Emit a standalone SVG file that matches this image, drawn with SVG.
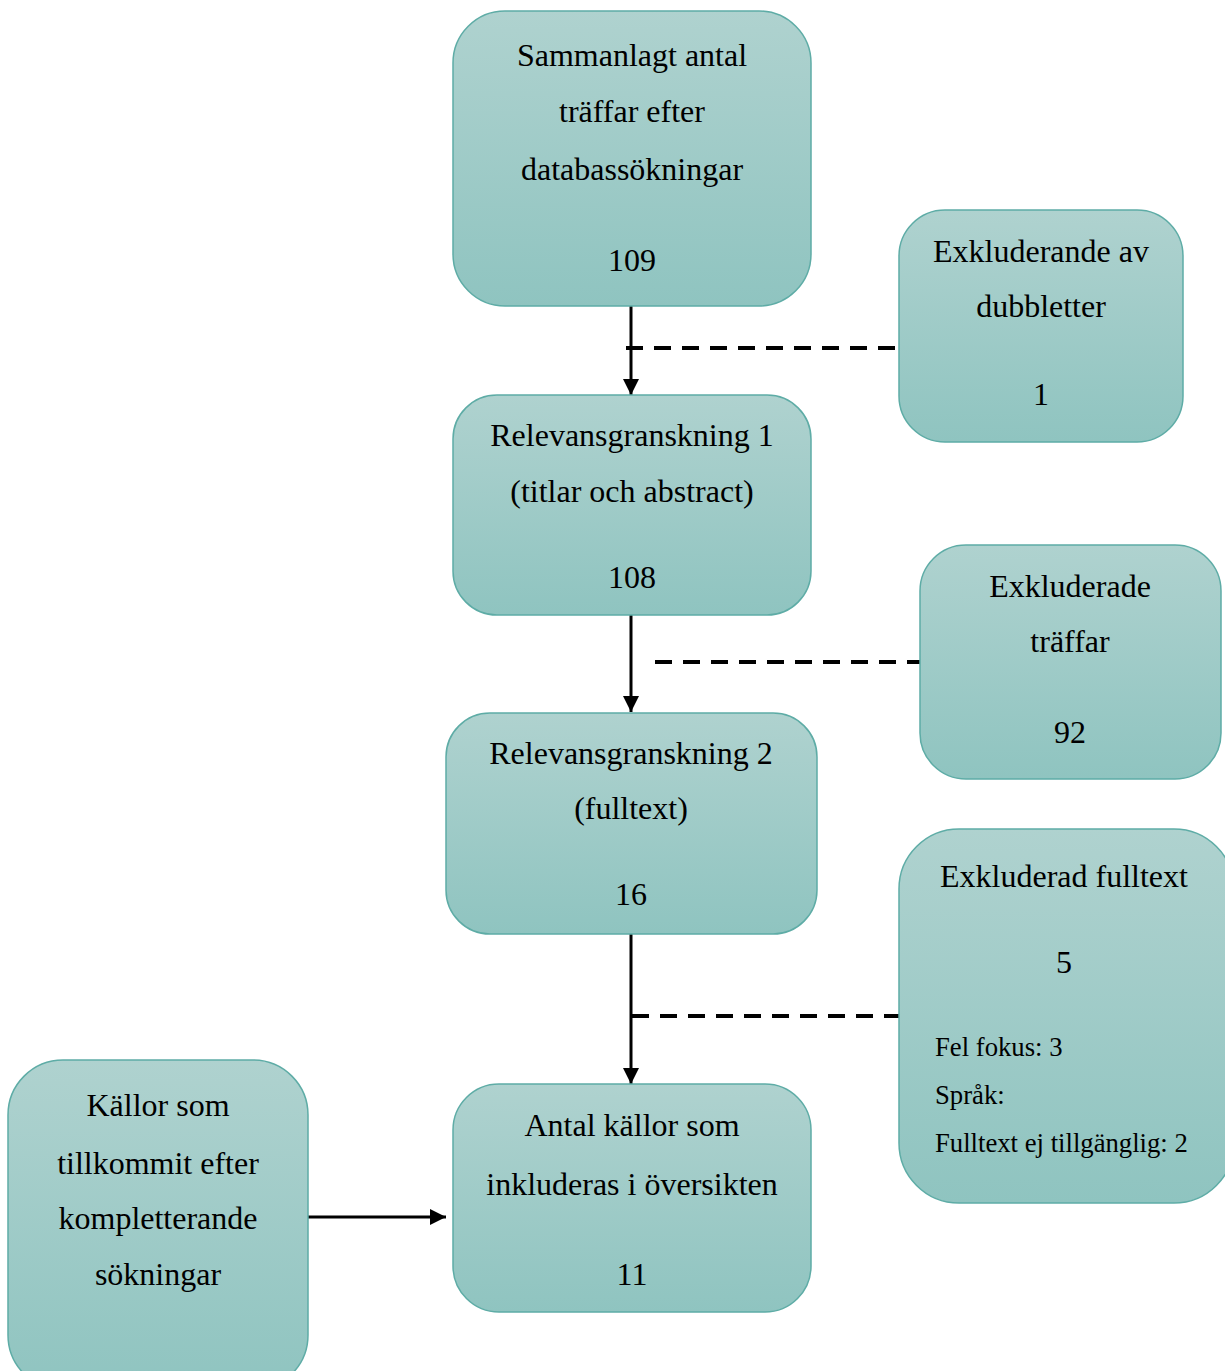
<svg xmlns="http://www.w3.org/2000/svg" width="1225" height="1371" viewBox="0 0 1225 1371">
<defs>
<linearGradient id="g" x1="0" y1="0" x2="0" y2="1">
<stop offset="0" stop-color="#afd2cf"/>
<stop offset="1" stop-color="#8fc4c0"/>
</linearGradient>
<marker id="ah" viewBox="0 0 10 10" refX="10" refY="5" markerWidth="16" markerHeight="16" markerUnits="userSpaceOnUse" orient="auto">
<path d="M0,0 L10,5 L0,10 Z" fill="#000"/>
</marker>
<style>
.box{fill:url(#g);stroke:#5eaca6;stroke-width:1.5}
.t{font-family:"Liberation Serif","Times New Roman",serif;font-size:32px;fill:#000;text-anchor:middle}
.s{font-family:"Liberation Serif","Times New Roman",serif;font-size:26.7px;fill:#000}
.a{stroke:#000;stroke-width:3;fill:none;marker-end:url(#ah)}
.d{stroke:#000;stroke-width:4;fill:none;stroke-dasharray:17,11}
</style>
</defs>
<g id="connectors">
<line class="a" x1="631" y1="306" x2="631" y2="395"/>
<line class="d" x1="626" y1="348" x2="898" y2="348"/>
<line class="a" x1="631" y1="615" x2="631" y2="712"/>
<line class="d" x1="655" y1="662" x2="920" y2="662"/>
<line class="a" x1="631" y1="934" x2="631" y2="1084"/>
<line class="d" x1="632" y1="1016" x2="899" y2="1016"/>
<line class="a" x1="308" y1="1217" x2="446" y2="1217"/>
</g>
<g id="n1">
<rect class="box" x="453" y="11" width="358" height="295" rx="52"/>
<text class="t" x="632" y="66">Sammanlagt antal</text>
<text class="t" x="632" y="122">träffar efter</text>
<text class="t" x="632" y="180">databassökningar</text>
<text class="t" x="632" y="271">109</text>
</g>
<g id="n2">
<rect class="box" x="899" y="210" width="284" height="232" rx="46"/>
<text class="t" x="1041" y="262">Exkluderande av</text>
<text class="t" x="1041" y="317">dubbletter</text>
<text class="t" x="1041" y="405">1</text>
</g>
<g id="n3">
<rect class="box" x="453" y="395" width="358" height="220" rx="44"/>
<text class="t" x="632" y="446">Relevansgranskning 1</text>
<text class="t" x="632" y="502">(titlar och abstract)</text>
<text class="t" x="632" y="588">108</text>
</g>
<g id="n4">
<rect class="box" x="920" y="545" width="301" height="234" rx="46"/>
<text class="t" x="1070" y="597">Exkluderade</text>
<text class="t" x="1070" y="652">träffar</text>
<text class="t" x="1070" y="743">92</text>
</g>
<g id="n5">
<rect class="box" x="446" y="713" width="371" height="221" rx="44"/>
<text class="t" x="631" y="764">Relevansgranskning 2</text>
<text class="t" x="631" y="819">(fulltext)</text>
<text class="t" x="631" y="905">16</text>
</g>
<g id="n6">
<rect class="box" x="899" y="829" width="335" height="374" rx="60"/>
<text class="t" x="1064" y="887">Exkluderad fulltext</text>
<text class="t" x="1064" y="973">5</text>
<text class="s" x="935" y="1056">Fel fokus: 3</text>
<text class="s" x="935" y="1104">Språk:</text>
<text class="s" x="935" y="1152">Fulltext ej tillgänglig: 2</text>
</g>
<g id="n7">
<rect class="box" x="453" y="1084" width="358" height="228" rx="46"/>
<text class="t" x="632" y="1136">Antal källor som</text>
<text class="t" x="632" y="1195">inkluderas i översikten</text>
<text class="t" x="632" y="1285">11</text>
</g>
<g id="n8">
<rect class="box" x="8" y="1060" width="300" height="330" rx="55"/>
<text class="t" x="158" y="1116">Källor som</text>
<text class="t" x="158" y="1174">tillkommit efter</text>
<text class="t" x="158" y="1229">kompletterande</text>
<text class="t" x="158" y="1285">sökningar</text>
</g>
</svg>
